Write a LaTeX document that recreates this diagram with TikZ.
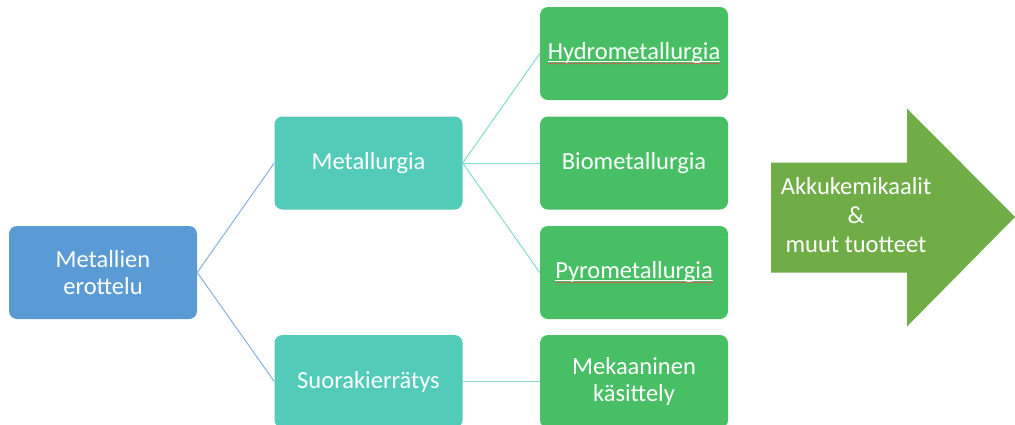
\documentclass[tikz,border=0pt]{standalone}
\usepackage{fontspec}
\setmainfont{Carlito}
\usetikzlibrary{decorations.pathmorphing}
\definecolor{bluebox}{HTML}{5B9BD5}
\definecolor{tealbox}{HTML}{52CBB8}
\definecolor{greenbox}{HTML}{48BF65}
\definecolor{arrowgreen}{HTML}{70AD47}
\definecolor{blueline}{HTML}{84B3E0}
\definecolor{tealline}{HTML}{82DACC}
\definecolor{spellred}{HTML}{D85A50}
\tikzset{
  box/.style={rounded corners=8pt, minimum width=188pt, minimum height=93pt,
    inner sep=0pt, text=white, align=center,
    font=\fontsize{24.5}{26.5}\selectfont},
  bbox/.style={box, fill=bluebox},
  tbox/.style={box, fill=tealbox},
  gbox/.style={box, fill=greenbox},
  txt/.style={inner sep=0pt, text=white, font=\fontsize{24.5}{26.5}\selectfont},
  bline/.style={draw=blueline, line width=1pt},
  tline/.style={draw=tealline, line width=1pt},
  uline/.style={draw=white, line width=0.9pt},
  squiggle/.style={draw=spellred, line width=0.45pt,
    decorate, decoration={snake, amplitude=0.6pt, segment length=2pt}}
}
\begin{document}
\begin{tikzpicture}[x=1pt,y=-1pt]
\path[use as bounding box, clip] (0,0) rectangle (1015,424);
\fill[white] (0,0) rectangle (1015,424);

\node[bbox] (m) at (103,272.5) {Metallien\\erottelu};
\node[tbox] (met) at (368.5,163) {Metallurgia};
\node[tbox] (suo) at (368.5,381.5) {Suorakierrätys};
\node[gbox] (hyd) at (634,53.5) {};
\node[txt] (hydt) at (hyd.center) {Hydrometallurgia};
\node[gbox] (bio) at (634,163) {Biometallurgia};
\node[gbox] (pyr) at (634,272.5) {};
\node[txt] (pyrt) at (pyr.center) {Pyrometallurgia};
\node[gbox] (mek) at (634,381.5) {Mekaaninen\\käsittely};

\path[squiggle] ([yshift=-3.6pt]hydt.base west) -- ([yshift=-3.6pt]hydt.base east);
\path[uline] ([yshift=-1.8pt]hydt.base west) -- ([yshift=-1.8pt]hydt.base east);
\path[squiggle] ([yshift=-3.6pt]pyrt.base west) -- ([yshift=-3.6pt]pyrt.base east);
\path[uline] ([yshift=-1.8pt]pyrt.base west) -- ([yshift=-1.8pt]pyrt.base east);

\path[bline] (m.east) -- (met.west);
\path[bline] (m.east) -- (suo.west);
\path[tline] (met.east) -- (hyd.west);
\path[tline] (met.east) -- (bio.west);
\path[tline] (met.east) -- (pyr.west);
\path[tline] (suo.east) -- (mek.west);

\fill[arrowgreen] (771,162.5) -- (907,162.5) -- (907,108.5) -- (1015,217)
  -- (907,326.5) -- (907,272.5) -- (771,272.5) -- cycle;
\node[txt, align=center, font=\fontsize{24.5}{29}\selectfont] (arr) at (856,215)
  {Akkukemikaalit\\\&\\muut tuotteet};
\end{tikzpicture}
\end{document}
